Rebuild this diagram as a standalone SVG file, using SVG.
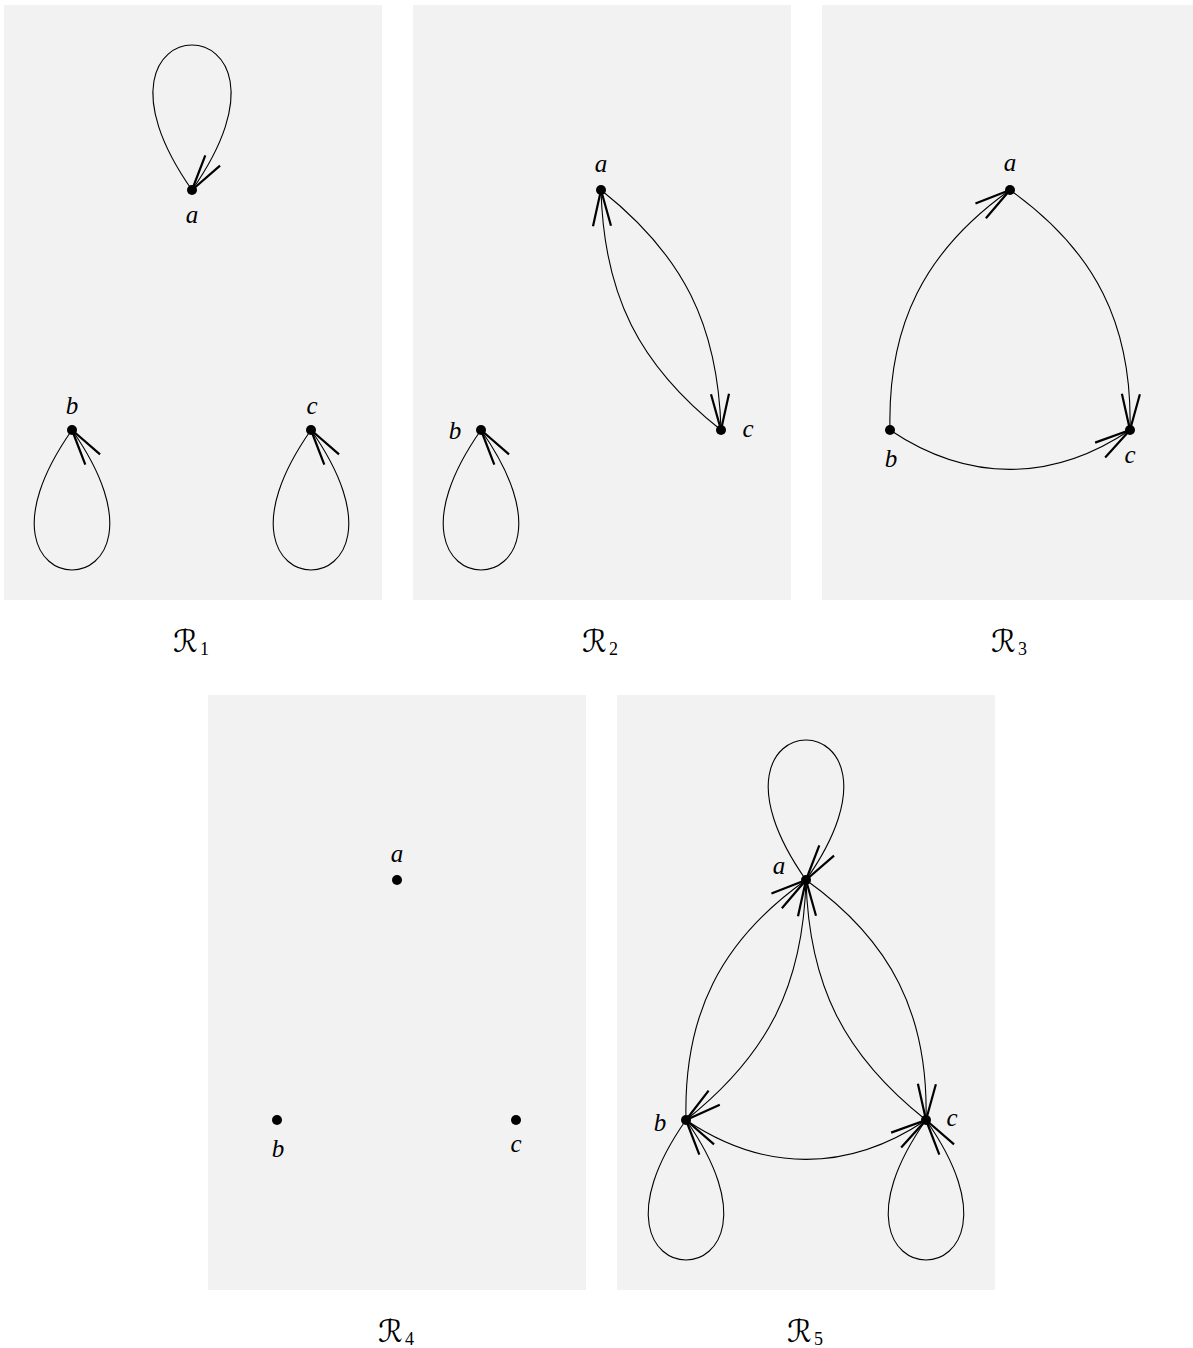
<svg xmlns="http://www.w3.org/2000/svg" width="1193" height="1348" viewBox="0 0 1193 1348">
<style>
.panel{fill:#f2f2f2;stroke:none}
.edge{fill:none;stroke:#000;stroke-width:1.1;marker-end:url(#ah)}
.dot{fill:#000}
.lbl{font-family:"Liberation Serif","DejaVu Serif",serif;font-style:italic;font-size:25px;fill:#000;text-anchor:middle}
.cap{font-family:"DejaVu Serif","DejaVu Sans",serif;font-style:italic;font-size:31px;fill:#000}
.sub{font-family:"Liberation Serif","DejaVu Serif",serif;font-size:18px;fill:#000}
</style>
<defs>
<marker id="ah" markerUnits="userSpaceOnUse" orient="auto" overflow="visible" markerWidth="1" markerHeight="1" refX="0" refY="0">
<path d="M-36,-9 L0,0 L-36,9" fill="none" stroke="#000" stroke-width="2.2" stroke-linecap="butt"/>
</marker>
</defs>
<g id="panels">
<rect class="panel" x="4" y="5" width="378" height="595"/>
<rect class="panel" x="413" y="5" width="378" height="595"/>
<rect class="panel" x="822" y="5" width="378" height="595"/>
<rect class="panel" x="208" y="695" width="378" height="595"/>
<rect class="panel" x="617" y="695" width="378" height="595"/>
</g>
<g id="connectors">
<path class="edge" d="M192,190 C56.5,-3.3 327.5,-3.3 192,190"/>
<path class="edge" d="M72,430 C-58.9,616.7 202.9,616.7 72,430"/>
<path class="edge" d="M311,430 C180.1,616.7 441.9,616.7 311,430"/>
<path class="edge" d="M481,430 C350.1,616.7 611.9,616.7 481,430"/>
<path class="edge" d="M601,190 C683.3,255.2 718.1,325 721,430"/>
<path class="edge" d="M721,430 C638.8,364.8 603.9,295 601,190"/>
<path class="edge" d="M890,430 C887.4,325 924.4,250.9 1010,190"/>
<path class="edge" d="M1010,190 C1095.6,250.9 1132.6,325 1130,430"/>
<path class="edge" d="M890,430 C967.9,482.5 1052.1,482.5 1130,430"/>
<path class="edge" d="M806,880 C675.1,693.3 936.9,693.3 806,880"/>
<path class="edge" d="M686,1120 C555.1,1306.7 816.9,1306.7 686,1120"/>
<path class="edge" d="M926,1120 C795.1,1306.7 1056.9,1306.7 926,1120"/>
<path class="edge" d="M686,1120 C683.4,1015 720.4,940.9 806,880"/>
<path class="edge" d="M806,880 C891.6,940.9 928.6,1015 926,1120"/>
<path class="edge" d="M926,1120 C843.8,1054.8 808.9,985 806,880"/>
<path class="edge" d="M806,880 C803.1,985 768.2,1054.8 686,1120"/>
<path class="edge" d="M686,1120 C763.9,1172.5 848.1,1172.5 926,1120"/>
</g>
<g id="r1-a"><circle class="dot" cx="192" cy="190" r="5"/><text class="lbl" x="192" y="223">a</text></g>
<g id="r1-b"><circle class="dot" cx="72" cy="430" r="5"/><text class="lbl" x="72" y="414">b</text></g>
<g id="r1-c"><circle class="dot" cx="311" cy="430" r="5"/><text class="lbl" x="312" y="414">c</text></g>
<g id="r2-a"><circle class="dot" cx="601" cy="190" r="5"/><text class="lbl" x="601" y="172">a</text></g>
<g id="r2-b"><circle class="dot" cx="481" cy="430" r="5"/><text class="lbl" x="455" y="439">b</text></g>
<g id="r2-c"><circle class="dot" cx="721" cy="430" r="5"/><text class="lbl" x="748" y="437">c</text></g>
<g id="r3-a"><circle class="dot" cx="1010" cy="190" r="5"/><text class="lbl" x="1010" y="171">a</text></g>
<g id="r3-b"><circle class="dot" cx="890" cy="430" r="5"/><text class="lbl" x="891" y="467">b</text></g>
<g id="r3-c"><circle class="dot" cx="1130" cy="430" r="5"/><text class="lbl" x="1130" y="463">c</text></g>
<g id="r4-a"><circle class="dot" cx="397" cy="880" r="5"/><text class="lbl" x="397" y="862">a</text></g>
<g id="r4-b"><circle class="dot" cx="277" cy="1120" r="5"/><text class="lbl" x="278" y="1157">b</text></g>
<g id="r4-c"><circle class="dot" cx="516" cy="1120" r="5"/><text class="lbl" x="516" y="1152">c</text></g>
<g id="r5-a"><circle class="dot" cx="806" cy="880" r="5"/><text class="lbl" x="779" y="874">a</text></g>
<g id="r5-b"><circle class="dot" cx="686" cy="1120" r="5"/><text class="lbl" x="660" y="1131">b</text></g>
<g id="r5-c"><circle class="dot" cx="926" cy="1120" r="5"/><text class="lbl" x="952" y="1126">c</text></g>
<g id="captions">
<text x="173" y="652"><tspan class="cap">ℛ</tspan><tspan class="sub" x="200" y="655">1</tspan></text>
<text x="582" y="652"><tspan class="cap">ℛ</tspan><tspan class="sub" x="609" y="655">2</tspan></text>
<text x="991" y="652"><tspan class="cap">ℛ</tspan><tspan class="sub" x="1018" y="655">3</tspan></text>
<text x="378" y="1342"><tspan class="cap">ℛ</tspan><tspan class="sub" x="405" y="1345">4</tspan></text>
<text x="787" y="1342"><tspan class="cap">ℛ</tspan><tspan class="sub" x="814" y="1345">5</tspan></text>
</g>
</svg>
